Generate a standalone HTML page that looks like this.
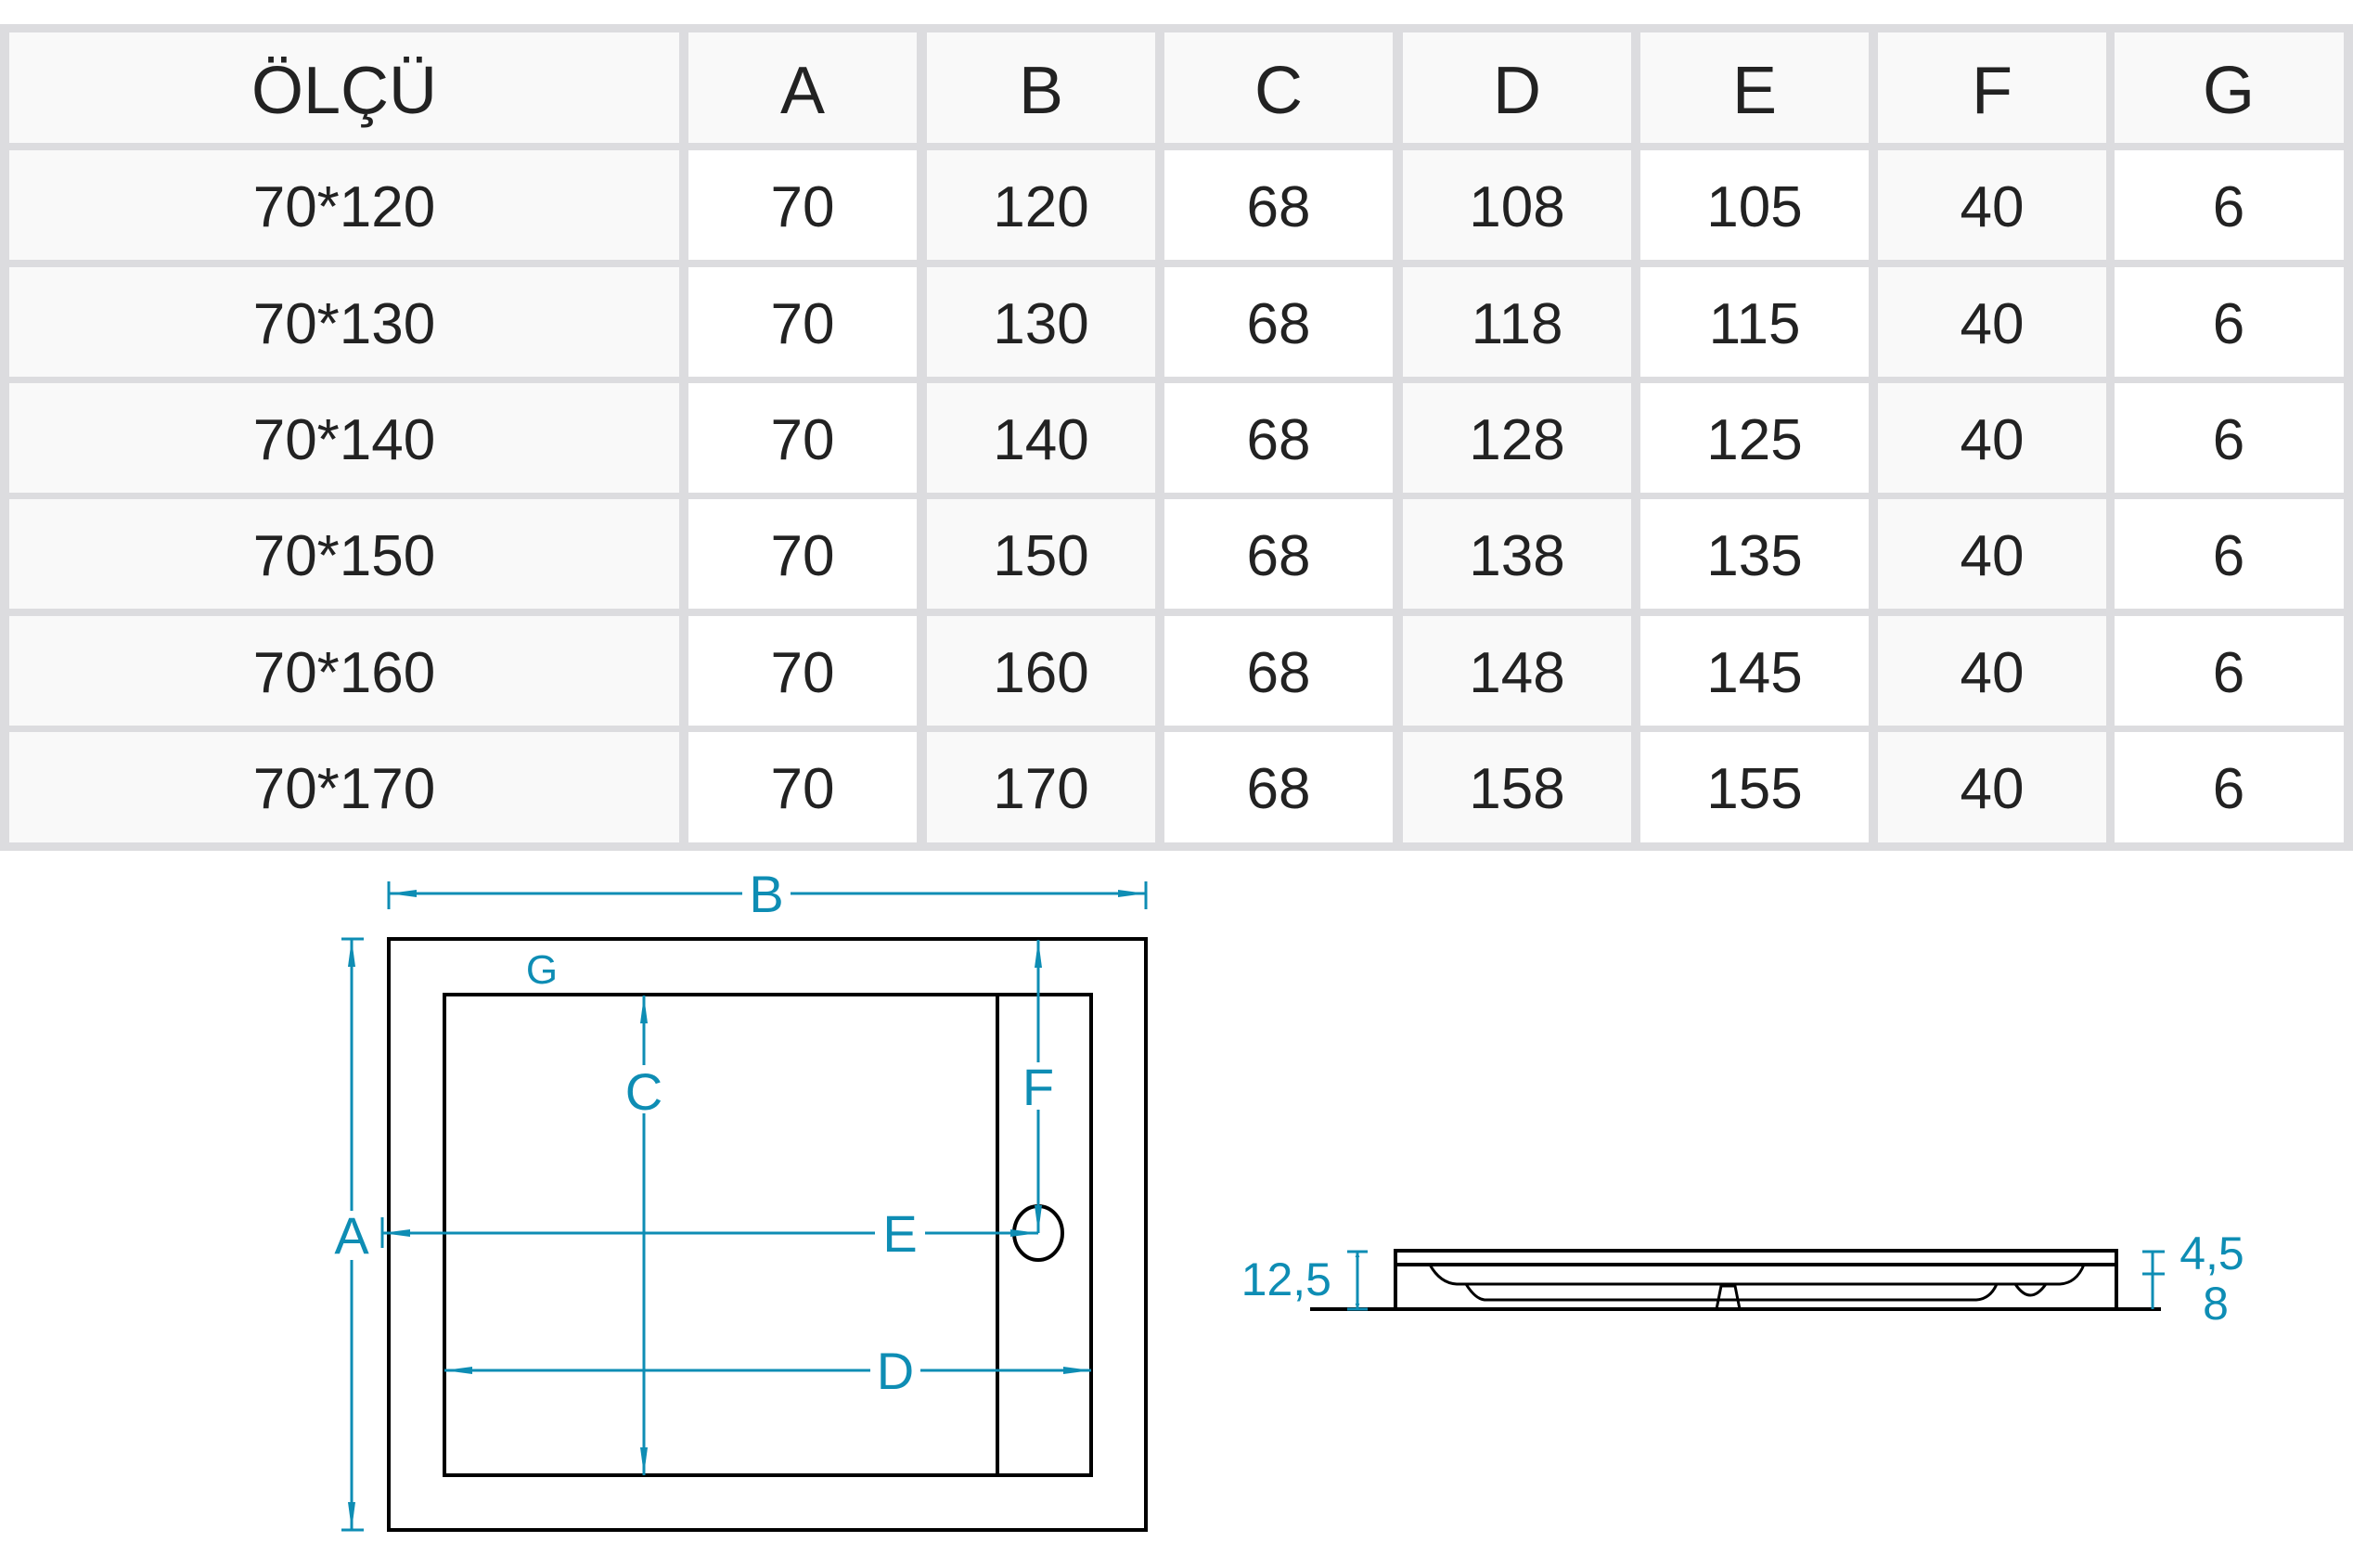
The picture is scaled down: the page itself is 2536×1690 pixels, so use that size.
<!DOCTYPE html>
<html><head><meta charset="utf-8"><style>
html,body{margin:0;padding:0;background:#fff;}
svg{display:block;}
.t{font-family:"Liberation Sans",sans-serif;fill:#222;text-anchor:middle;}
.b{font-family:"Liberation Sans",sans-serif;fill:#0e8db4;text-anchor:middle;}
</style></head><body>
<svg width="2536" height="1690" viewBox="0 0 2536 1690" xmlns="http://www.w3.org/2000/svg">
<defs>
<marker id="ar" viewBox="0 0 10 10" refX="10" refY="5" markerWidth="10" markerHeight="6" markerUnits="userSpaceOnUse" orient="auto-start-reverse">
<path d="M0,1 L10,5 L0,9 z" fill="#0e8db4"/></marker>
<marker id="ar2" viewBox="0 0 30 10" refX="30" refY="5" markerWidth="30" markerHeight="10" markerUnits="userSpaceOnUse" orient="auto-start-reverse">
<path d="M0,1 L30,5 L0,9 z" fill="#0e8db4"/></marker>
</defs>
<rect x="0" y="26" width="2536" height="891" fill="#dcdcdf"/>
<g fill="#f9f9f9">
<rect x="10" y="35" width="722" height="119"/>
<rect x="742" y="35" width="246" height="119"/>
<rect x="999" y="35" width="246" height="119"/>
<rect x="1255" y="35" width="246" height="119"/>
<rect x="1512" y="35" width="246" height="119"/>
<rect x="1768" y="35" width="246" height="119"/>
<rect x="2024" y="35" width="246" height="119"/>
<rect x="2279" y="35" width="247" height="119"/>
</g>
<g>
<g transform="translate(0,162)">
<rect x="10" width="722" height="118" fill="#f9f9f9"/><rect x="742" width="246" height="118" fill="#fff"/><rect x="999" width="246" height="118" fill="#f9f9f9"/><rect x="1255" width="246" height="118" fill="#fff"/><rect x="1512" width="246" height="118" fill="#f9f9f9"/><rect x="1768" width="246" height="118" fill="#fff"/><rect x="2024" width="246" height="118" fill="#f9f9f9"/><rect x="2279" width="247" height="118" fill="#fff"/></g>
<g transform="translate(0,288)">
<rect x="10" width="722" height="118" fill="#f9f9f9"/><rect x="742" width="246" height="118" fill="#fff"/><rect x="999" width="246" height="118" fill="#f9f9f9"/><rect x="1255" width="246" height="118" fill="#fff"/><rect x="1512" width="246" height="118" fill="#f9f9f9"/><rect x="1768" width="246" height="118" fill="#fff"/><rect x="2024" width="246" height="118" fill="#f9f9f9"/><rect x="2279" width="247" height="118" fill="#fff"/></g>
<g transform="translate(0,413)">
<rect x="10" width="722" height="118" fill="#f9f9f9"/><rect x="742" width="246" height="118" fill="#fff"/><rect x="999" width="246" height="118" fill="#f9f9f9"/><rect x="1255" width="246" height="118" fill="#fff"/><rect x="1512" width="246" height="118" fill="#f9f9f9"/><rect x="1768" width="246" height="118" fill="#fff"/><rect x="2024" width="246" height="118" fill="#f9f9f9"/><rect x="2279" width="247" height="118" fill="#fff"/></g>
<g transform="translate(0,538)">
<rect x="10" width="722" height="118" fill="#f9f9f9"/><rect x="742" width="246" height="118" fill="#fff"/><rect x="999" width="246" height="118" fill="#f9f9f9"/><rect x="1255" width="246" height="118" fill="#fff"/><rect x="1512" width="246" height="118" fill="#f9f9f9"/><rect x="1768" width="246" height="118" fill="#fff"/><rect x="2024" width="246" height="118" fill="#f9f9f9"/><rect x="2279" width="247" height="118" fill="#fff"/></g>
<g transform="translate(0,664)">
<rect x="10" width="722" height="118" fill="#f9f9f9"/><rect x="742" width="246" height="118" fill="#fff"/><rect x="999" width="246" height="118" fill="#f9f9f9"/><rect x="1255" width="246" height="118" fill="#fff"/><rect x="1512" width="246" height="118" fill="#f9f9f9"/><rect x="1768" width="246" height="118" fill="#fff"/><rect x="2024" width="246" height="118" fill="#f9f9f9"/><rect x="2279" width="247" height="118" fill="#fff"/></g>
<g transform="translate(0,789)">
<rect x="10" width="722" height="119" fill="#f9f9f9"/><rect x="742" width="246" height="119" fill="#fff"/><rect x="999" width="246" height="119" fill="#f9f9f9"/><rect x="1255" width="246" height="119" fill="#fff"/><rect x="1512" width="246" height="119" fill="#f9f9f9"/><rect x="1768" width="246" height="119" fill="#fff"/><rect x="2024" width="246" height="119" fill="#f9f9f9"/><rect x="2279" width="247" height="119" fill="#fff"/></g>
</g>
<g font-size="72">
<text x="371" y="122" class="t">ÖLÇÜ</text>
<text x="865" y="122" class="t">A</text>
<text x="1122" y="122" class="t">B</text>
<text x="1378" y="122" class="t">C</text>
<text x="1635" y="122" class="t">D</text>
<text x="1891" y="122" class="t">E</text>
<text x="2147" y="122" class="t">F</text>
<text x="2402" y="122" class="t">G</text>
</g>
<g font-size="62">
<g transform="translate(0,244)"><text x="371" class="t">70*120</text><text x="865" class="t">70</text><text x="1122" class="t">120</text><text x="1378" class="t">68</text><text x="1635" class="t">108</text><text x="1891" class="t">105</text><text x="2147" class="t">40</text><text x="2402" class="t">6</text></g>
<g transform="translate(0,370)"><text x="371" class="t">70*130</text><text x="865" class="t">70</text><text x="1122" class="t">130</text><text x="1378" class="t">68</text><text x="1635" class="t">118</text><text x="1891" class="t">115</text><text x="2147" class="t">40</text><text x="2402" class="t">6</text></g>
<g transform="translate(0,495)"><text x="371" class="t">70*140</text><text x="865" class="t">70</text><text x="1122" class="t">140</text><text x="1378" class="t">68</text><text x="1635" class="t">128</text><text x="1891" class="t">125</text><text x="2147" class="t">40</text><text x="2402" class="t">6</text></g>
<g transform="translate(0,620)"><text x="371" class="t">70*150</text><text x="865" class="t">70</text><text x="1122" class="t">150</text><text x="1378" class="t">68</text><text x="1635" class="t">138</text><text x="1891" class="t">135</text><text x="2147" class="t">40</text><text x="2402" class="t">6</text></g>
<g transform="translate(0,746)"><text x="371" class="t">70*160</text><text x="865" class="t">70</text><text x="1122" class="t">160</text><text x="1378" class="t">68</text><text x="1635" class="t">148</text><text x="1891" class="t">145</text><text x="2147" class="t">40</text><text x="2402" class="t">6</text></g>
<g transform="translate(0,871)"><text x="371" class="t">70*170</text><text x="865" class="t">70</text><text x="1122" class="t">170</text><text x="1378" class="t">68</text><text x="1635" class="t">158</text><text x="1891" class="t">155</text><text x="2147" class="t">40</text><text x="2402" class="t">6</text></g>
</g>

<g fill="none" stroke="#000" stroke-width="4">
<rect x="419" y="1012" width="816" height="637"/>
<rect x="479" y="1072" width="697" height="518"/>
<line x1="1075" y1="1072" x2="1075" y2="1590"/>
<ellipse cx="1119" cy="1329" rx="26" ry="29"/>
</g>
<g stroke="#0e8db4" stroke-width="3" fill="none">
<line x1="419" y1="950" x2="419" y2="980"/><line x1="1235" y1="950" x2="1235" y2="980"/>
<line x1="419" y1="963" x2="800" y2="963" marker-start="url(#ar2)"/>
<line x1="852" y1="963" x2="1235" y2="963" marker-end="url(#ar2)"/>
<line x1="368" y1="1012" x2="392" y2="1012"/><line x1="368" y1="1649" x2="392" y2="1649"/>
<line x1="379" y1="1012" x2="379" y2="1305" marker-start="url(#ar2)"/>
<line x1="379" y1="1358" x2="379" y2="1649" marker-end="url(#ar2)"/>
<line x1="694" y1="1073" x2="694" y2="1148" marker-start="url(#ar2)"/>
<line x1="694" y1="1200" x2="694" y2="1590" marker-end="url(#ar2)"/>
<line x1="1119" y1="1013" x2="1119" y2="1145" marker-start="url(#ar2)"/>
<line x1="1119" y1="1196" x2="1119" y2="1329" marker-end="url(#ar2)"/>
<line x1="412" y1="1312" x2="412" y2="1345"/>
<line x1="412" y1="1329" x2="943" y2="1329" marker-start="url(#ar2)"/>
<line x1="997" y1="1329" x2="1119" y2="1329" marker-end="url(#ar2)"/>
<line x1="479" y1="1477" x2="938" y2="1477" marker-start="url(#ar2)"/>
<line x1="992" y1="1477" x2="1176" y2="1477" marker-end="url(#ar2)"/>
</g>
<text x="826" y="983" font-size="56" class="b">B</text>
<text x="379" y="1351" font-size="56" class="b">A</text>
<text x="584" y="1060" font-size="44" class="b">G</text>
<text x="694" y="1196" font-size="56" class="b">C</text>
<text x="1119" y="1191" font-size="56" class="b">F</text>
<text x="970" y="1349" font-size="56" class="b">E</text>
<text x="965" y="1497" font-size="56" class="b">D</text>

<g fill="none" stroke="#000" stroke-width="4">
<line x1="1412" y1="1411" x2="2329" y2="1411"/>
<rect x="1504" y="1348" width="777" height="63"/>
<line x1="1504" y1="1363" x2="2281" y2="1363"/>
<path d="M1541,1363 Q1552,1383 1570,1384 L2220,1384 Q2238,1383 2246,1363" stroke-width="3"/>
<path d="M1580,1384 Q1590,1400 1600,1401 L2130,1401 Q2145,1400 2152,1384" stroke-width="3"/>
<path d="M2172,1384 Q2188,1408 2205,1384" stroke-width="3"/>
<path d="M1850,1411 L1855,1386 L1870,1386 L1875,1411" stroke-width="3"/>
</g>
<g stroke="#0e8db4" stroke-width="3" fill="none">
<line x1="1452" y1="1349" x2="1474" y2="1349"/>
<line x1="1452" y1="1411" x2="1474" y2="1411"/>
<line x1="1463" y1="1349" x2="1463" y2="1411" marker-start="url(#ar)" marker-end="url(#ar)"/>
<line x1="2309" y1="1349" x2="2333" y2="1349"/>
<line x1="2309" y1="1373" x2="2333" y2="1373"/>
<line x1="2320" y1="1349" x2="2320" y2="1411"/>
</g>
<text x="1435" y="1396" font-size="50" class="b" style="text-anchor:end">12,5</text>
<text x="2384" y="1368" font-size="50" class="b">4,5</text>
<text x="2388" y="1422" font-size="50" class="b">8</text>
</svg>
</body></html>
